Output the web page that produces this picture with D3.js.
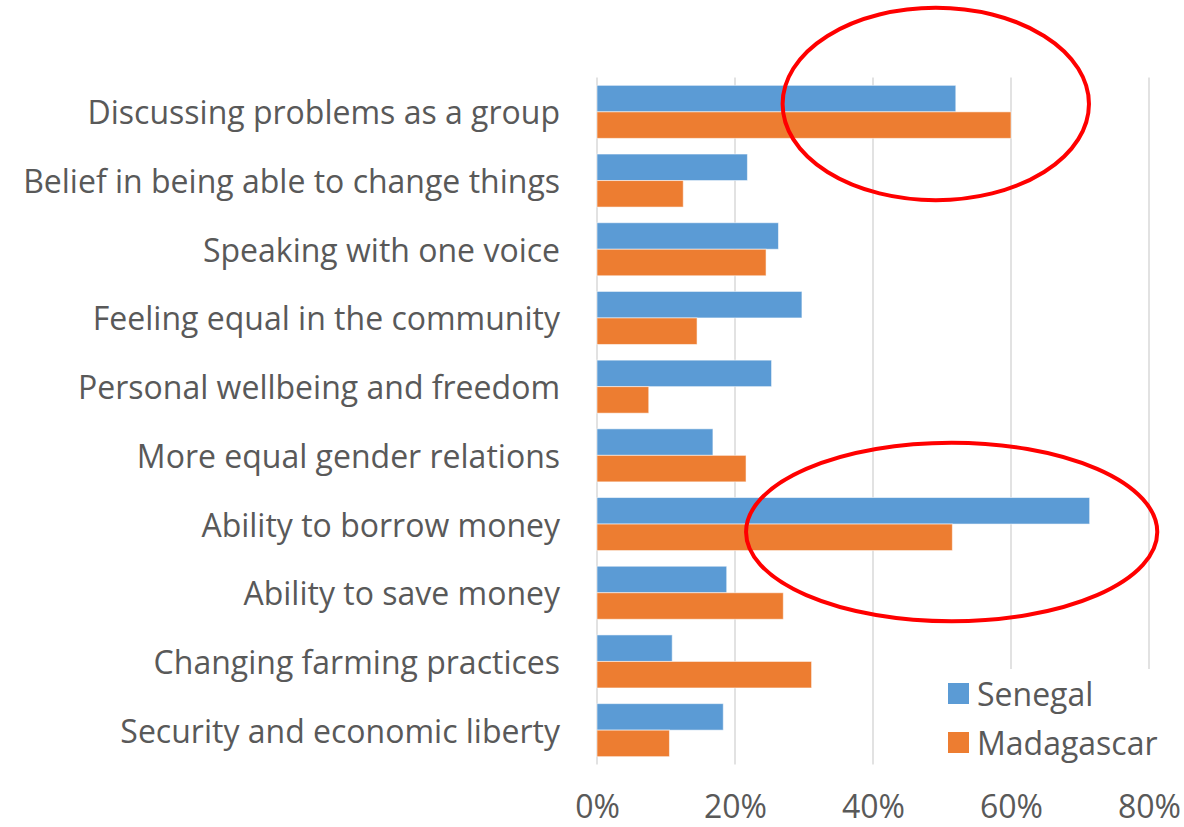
<!DOCTYPE html>
<html>
<head>
<meta charset="utf-8">
<script src="https://cdn.jsdelivr.net/npm/d3@7"></script>
<style>
  html, body { margin: 0; padding: 0; background: #fff; }
  svg { display: block; }
  text { font-family: "Open Sans", Lato, sans-serif; fill: #595959; }
</style>
</head>
<body>
<svg id="chart" width="1184" height="827"></svg>
<script>
const categories = [
  "Discussing problems as a group",
  "Belief in being able to change things",
  "Speaking with one voice",
  "Feeling equal in the community",
  "Personal wellbeing and freedom",
  "More equal gender relations",
  "Ability to borrow money",
  "Ability to save money",
  "Changing farming practices",
  "Security and economic liberty"
];
const seriesNames = ["Senegal", "Madagascar"];
const senegal    = [0.52, 0.218, 0.263, 0.297, 0.253, 0.168, 0.714, 0.188, 0.109, 0.183];
const madagascar = [0.60, 0.125, 0.245, 0.145, 0.075, 0.216, 0.515, 0.270, 0.311, 0.105];
const colors = ["#5B9BD5", "#ED7D31"];
const xTicks = [0, 0.2, 0.4, 0.6, 0.8];
// annotation ellipses: centre value, category, offset in bands, radii (value units, band steps)
const highlights = [
  { cat: "Discussing problems as a group", cx: 0.491, dy: -0.115, rx: 0.222, ry: 1.40 },
  { cat: "Ability to borrow money",        cx: 0.514, dy: 0.116,  rx: 0.298, ry: 1.30 }
];

const svg = d3.select("#chart");
const seriesValues = [senegal, madagascar];

const x = d3.scaleLinear().domain([0, 0.8]).range([597, 1149]);
const y = d3.scaleBand().domain(categories).range([77.5, 764.5])
  .paddingInner(0.228).paddingOuter(0.114);
const ySub = d3.scaleBand().domain(seriesNames).range([0, y.bandwidth()]);

const plotTop = 77.5, plotBottom = 764.5;

// gridlines
svg.append("g").selectAll("line").data(xTicks).join("line")
  .attr("x1", d => x(d)).attr("x2", d => x(d))
  .attr("y1", plotTop).attr("y2", plotBottom)
  .attr("stroke", "#D9D9D9").attr("stroke-width", 1.5);

// bars
const groups = svg.append("g").selectAll("g").data(categories).join("g")
  .attr("transform", c => `translate(0,${y(c)})`);
groups.selectAll("rect")
  .data((c, i) => seriesNames.map((s, j) => ({ s, v: seriesValues[j][i], j })))
  .join("rect")
  .attr("x", x(0))
  .attr("y", d => ySub(d.s))
  .attr("width", d => x(d.v) - x(0))
  .attr("height", ySub.bandwidth())
  .attr("fill", d => colors[d.j])
  .attr("stroke", "rgba(255,255,255,0.55)")
  .attr("stroke-width", 1);

// category labels
svg.append("g").selectAll("text").data(categories).join("text")
  .attr("x", x(0) - 37)
  .attr("y", c => y(c) + y.bandwidth() / 2)
  .attr("text-anchor", "end")
  .attr("dominant-baseline", "central")
  .style("font-size", "32px")
  .text(c => c);

// x axis tick labels
const xAxis = d3.axisBottom(x).tickValues(xTicks).tickFormat(d3.format(".0%")).tickSize(0).tickPadding(0);
const ax = svg.append("g").attr("transform", `translate(0,${plotBottom})`).call(xAxis);
ax.select(".domain").remove();
ax.selectAll("text")
  .attr("y", 0).attr("dy", null)
  .attr("transform", "translate(0,53)")
  .style("font-size", "32px")
  .style("font-family", "'Open Sans', Lato, sans-serif")
  .attr("fill", "#595959");

// legend (white background covers gridlines)
const legend = svg.append("g");
legend.append("rect").attr("x", 930).attr("y", 669).attr("width", 254).attr("height", 100).attr("fill", "#fff");
const li = legend.selectAll("g").data(seriesNames).join("g")
  .attr("transform", (d, i) => `translate(948,${683 + i * 49})`);
li.append("rect").attr("width", 21).attr("height", 21).attr("fill", (d, i) => colors[i]);
li.append("text").attr("x", 29).attr("y", 10.5).attr("dominant-baseline", "central")
  .style("font-size", "32px").text(d => d);

// annotation ellipses
svg.append("g").selectAll("ellipse").data(highlights).join("ellipse")
  .attr("cx", d => x(d.cx))
  .attr("cy", d => y(d.cat) + y.bandwidth() / 2 + d.dy * y.step())
  .attr("rx", d => x(d.rx) - x(0))
  .attr("ry", d => d.ry * y.step())
  .attr("fill", "none")
  .attr("stroke", "#FF0000")
  .attr("stroke-width", 4);
</script>
</body>
</html>
